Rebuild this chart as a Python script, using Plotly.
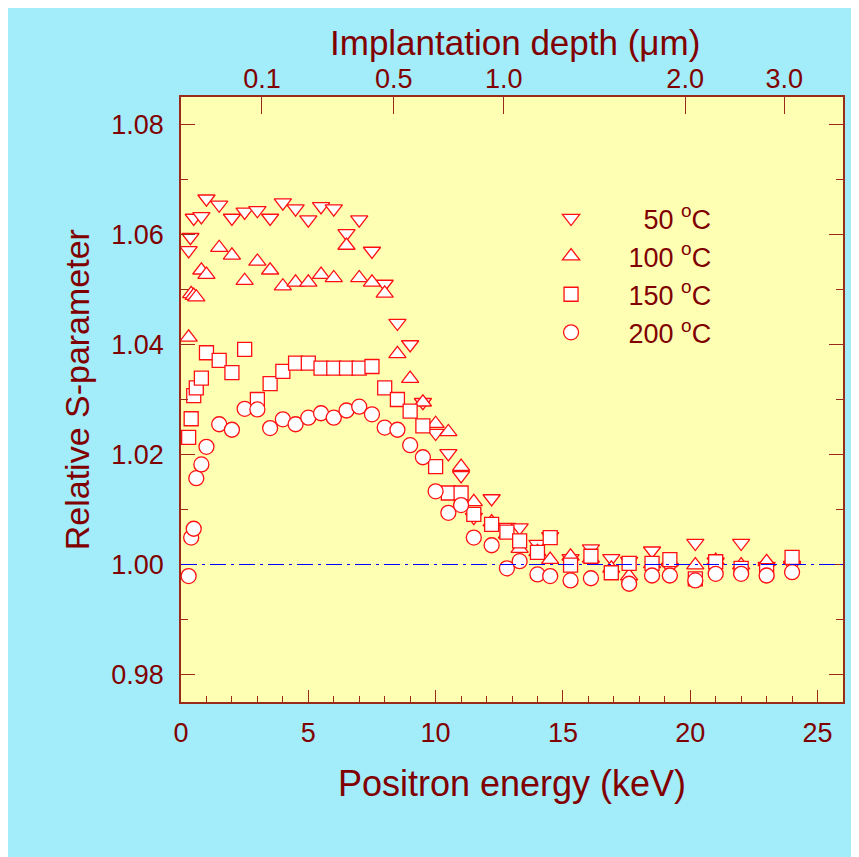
import plotly.graph_objects as go

# ---------------- data ----------------
e_50 = [0.3, 0.37, 0.5, 0.8, 1.0, 1.5, 2.0, 2.5, 3.0, 3.5, 4.0, 4.5, 5.0, 5.5, 6.0, 6.5, 7.0, 7.5,
        8.0, 8.5, 9.0, 9.5, 10.0, 10.5, 11.0, 11.5, 12.2, 12.8, 13.3, 14.0, 14.5, 15.3, 16.1, 16.9,
        17.6, 18.5, 19.2, 20.2, 21.0, 22.0, 23.0, 24.0]
s_50 = [1.0571, 1.0595, 1.0630, 1.0633, 1.0665, 1.0654, 1.0630, 1.0641, 1.0644, 1.0630, 1.0658,
        1.0647, 1.0627, 1.0651, 1.0647, 1.0602, 1.0627, 1.0570, 1.0510, 1.0439, 1.0400, 1.0295,
        1.0239, 1.0202, 1.0162, 1.0086, 1.0120, 1.0068, 1.0067, 1.0037, 1.0051, 1.0011, 1.0029,
        1.0011, 1.0006, 1.0025, 0.9995, 1.0039, 1.0005, 1.0039, 0.9997, 0.9999]

e_100 = [0.3, 0.4, 0.5, 0.6, 0.8, 1.0, 1.5, 2.0, 2.5, 3.0, 3.5, 4.0, 4.5, 5.0, 5.5, 6.0, 6.5, 7.0,
         7.5, 8.0, 8.5, 9.0, 9.5, 10.0, 10.5, 11.0, 11.5, 12.2, 12.8, 13.3, 14.0, 14.5, 15.3, 16.1,
         16.9, 17.6, 18.5, 19.2, 20.2, 21.0, 22.0, 23.0, 24.0]
s_100 = [1.0413, 1.0492, 1.0489, 1.0486, 1.0535, 1.0527, 1.0576, 1.0562, 1.0516, 1.0551, 1.0535,
         1.0506, 1.0513, 1.0513, 1.0527, 1.0521, 1.0580, 1.0521, 1.0513, 1.0493, 1.0383, 1.0338,
         1.0295, 1.0256, 1.0241, 1.0178, 1.0114, 1.0077, 1.0055, 1.0029, 1.0023, 1.0009, 1.0015,
         1.0011, 0.9993, 0.9979, 1.0001, 1.0005, 0.9999, 1.0007, 0.9999, 1.0005, 1.0009]

e_150 = [0.3, 0.4, 0.5, 0.6, 0.8, 1.0, 1.5, 2.0, 2.5, 3.0, 3.5, 4.0, 4.5, 5.0, 5.5, 6.0, 6.5, 7.0,
         7.5, 8.0, 8.5, 9.0, 9.5, 10.0, 10.5, 11.0, 11.5, 12.2, 12.8, 13.3, 14.0, 14.5, 15.3, 16.1,
         16.9, 17.6, 18.5, 19.2, 20.2, 21.0, 22.0, 23.0, 24.0]
s_150 = [1.0231, 1.0265, 1.0307, 1.0321, 1.0339, 1.0385, 1.0371, 1.0349, 1.0391, 1.0300, 1.0329,
         1.0351, 1.0366, 1.0366, 1.0357, 1.0357, 1.0357, 1.0357, 1.0360, 1.0321, 1.0300, 1.0279,
         1.0252, 1.0178, 1.0130, 1.0130, 1.0091, 1.0073, 1.0059, 1.0043, 1.0022, 1.0049, 0.9999,
         1.0015, 0.9985, 1.0002, 1.0002, 1.0009, 0.9974, 1.0005, 0.9993, 0.9989, 1.0013]

e_200 = [0.3, 0.4, 0.5, 0.6, 0.8, 1.0, 1.5, 2.0, 2.5, 3.0, 3.5, 4.0, 4.5, 5.0, 5.5, 6.0, 6.5, 7.0,
         7.5, 8.0, 8.5, 9.0, 9.5, 10.0, 10.5, 11.0, 11.5, 12.2, 12.8, 13.3, 14.0, 14.5, 15.3, 16.1,
         17.6, 18.5, 19.2, 20.2, 21.0, 22.0, 23.0, 24.0]
s_200 = [0.9979, 1.0049, 1.0065, 1.0157, 1.0182, 1.0214, 1.0255, 1.0245, 1.0283, 1.0282, 1.0248,
         1.0264, 1.0255, 1.0267, 1.0275, 1.0267, 1.0280, 1.0287, 1.0273, 1.0249, 1.0245, 1.0217,
         1.0195, 1.0133, 1.0094, 1.0108, 1.0049, 1.0035, 0.9993, 1.0006, 0.9982, 0.9979, 0.9971,
         0.9975, 0.9965, 0.9980, 0.9980, 0.9971, 0.9983, 0.9983, 0.9980, 0.9986]

series_names = ["50 <sup>o</sup>C", "100 <sup>o</sup>C", "150 <sup>o</sup>C", "200 <sup>o</sup>C"]

depth_tick_labels = ["0.1", "0.5", "1.0", "2.0", "3.0"]
depth_tick_energy = [3.18, 8.36, 12.68, 19.8, 23.69]

reference_s = 1.0

# ---------------- styling ----------------
DARK = "#800000"
LINE = "#9A2A1A"
FONT = "Liberation Sans, Arial, sans-serif"
# the page body adds an 8 px offset, so the figure is 8 px smaller than the window
W, H = 851, 849
ML, MT = 172.7, 89
MR = W - 834.7
MB = H - 694
PW, PH = W - ML - MR, H - MT - MB

fig = go.Figure()

symbols = ["triangle-down", "triangle-up", "square", "circle"]
sizes = [15, 15, 14, 15]
data = [(e_50, s_50), (e_100, s_100), (e_150, s_150), (e_200, s_200)]
NB = "\u00a0"
pads = [NB * 7, NB * 5, NB * 5, NB * 5]

for (ex, sy), sym, sz, nm, pd in zip(data, symbols, sizes, series_names, pads):
    fig.add_trace(go.Scatter(
        x=ex, y=sy, mode="markers", name=pd + nm,
        marker=dict(symbol=sym, size=sz, color="white",
                    line=dict(color="#FF1010", width=1.3)),
    ))

# invisible trace to activate the top (depth) axis
fig.add_trace(go.Scatter(x=depth_tick_energy, y=[reference_s] * len(depth_tick_energy),
                         xaxis="x2", mode="markers", marker=dict(opacity=0),
                         showlegend=False, hoverinfo="skip"))

fig.add_shape(type="line", xref="x", yref="y", x0=0, x1=26, y0=reference_s, y1=reference_s,
              line=dict(color="#0000FF", width=1, dash="16px,5px,3px,5px"), layer="above")

# top axis title
fig.add_annotation(text="Implantation depth (\u03bcm)", xref="paper", yref="paper",
                   x=0.505, y=(H - MB - 34) / PH, xanchor="center", yanchor="middle",
                   showarrow=False, font=dict(size=35, color=DARK, family=FONT))
# left axis title
fig.add_annotation(text="Relative S-parameter", xref="paper", yref="paper",
                   x=(69 - ML) / PW, y=(H - MB - 382) / PH, xanchor="center", yanchor="middle",
                   textangle=-90, showarrow=False, font=dict(size=34, color=DARK, family=FONT))

fig.update_layout(
    width=W, height=H,
    margin=dict(l=ML, r=MR, t=MT, b=MB, autoexpand=False),
    paper_bgcolor="#A3ECFA",
    plot_bgcolor="#FFFFB3",
    font=dict(family=FONT, color=DARK),
    showlegend=True,
    legend=dict(x=0.559, y=0.8397, xanchor="left", yanchor="top",
                bgcolor="rgba(0,0,0,0)", font=dict(size=27, color=DARK, family=FONT),
                tracegroupgap=0),
    xaxis=dict(range=[0, 26], tickvals=[0, 5, 10, 15, 20, 25], ticks="inside", ticklen=12,
               tickwidth=1.2, tickcolor=LINE, showline=True, linecolor=LINE, linewidth=1.5,
               showgrid=False, zeroline=False, tickfont=dict(size=27, color=DARK),
               ticklabelstandoff=6,
               minor=dict(dtick=1, ticks="inside", ticklen=6, tickcolor=LINE, tickwidth=1.2,
                          showgrid=False),
               title=dict(text="Positron energy (keV)", font=dict(size=36, color=DARK),
                          standoff=24)),
    xaxis2=dict(overlaying="x", side="top", range=[0, 26], tickvals=depth_tick_energy,
                ticktext=depth_tick_labels, ticks="inside", ticklen=17, tickwidth=1.2,
                tickcolor=LINE, showline=True, linecolor=LINE, linewidth=1.5, showgrid=False,
                zeroline=False, tickfont=dict(size=27, color=DARK), ticklabelstandoff=-4),
    yaxis=dict(range=[0.975, 1.085], tickvals=[0.98, 1.00, 1.02, 1.04, 1.06, 1.08],
               tickformat=".2f", ticks="inside", ticklen=14, tickwidth=1.2, tickcolor=LINE,
               showline=True, linecolor=LINE, linewidth=1.5, mirror="ticks", showgrid=False,
               zeroline=False, tickfont=dict(size=27, color=DARK), ticklabelstandoff=10,
               minor=dict(dtick=0.01, ticks="inside", ticklen=7, tickcolor=LINE, tickwidth=1.2,
                          showgrid=False)),
)

fig.write_html("out.html")
